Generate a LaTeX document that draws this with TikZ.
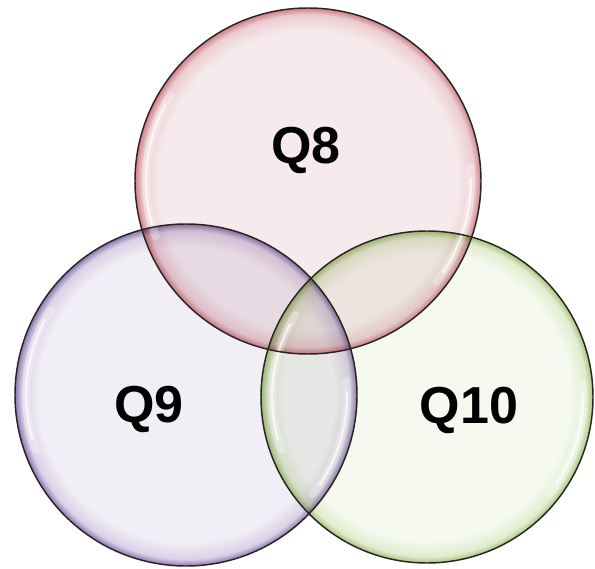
\documentclass[tikz,border=0pt]{standalone}
\usepackage{fontspec}
\setmainfont{Liberation Sans}
\usetikzlibrary{calc}
\definecolor{pkfill}{HTML}{F6EAEC}
\definecolor{pkmid}{HTML}{ECCDD1}
\definecolor{pkedge}{HTML}{CF7F87}
\definecolor{pufill}{HTML}{F1EEF5}
\definecolor{pumid}{HTML}{DAD1E7}
\definecolor{puedge}{HTML}{8C78AE}
\definecolor{grfill}{HTML}{F5F9F0}
\definecolor{grmid}{HTML}{E1ECCF}
\definecolor{gredge}{HTML}{A6C47A}
\definecolor{outline}{HTML}{2A2424}
\pgfdeclareradialshading{pkglass}{\pgfpoint{0bp}{0bp}}{color(0bp)=(pkfill); color(21.6bp)=(pkfill); color(24bp)=(pkmid); color(25bp)=(pkedge); color(50bp)=(pkedge)}
\pgfdeclareradialshading{puglass}{\pgfpoint{0bp}{0bp}}{color(0bp)=(pufill); color(21.6bp)=(pufill); color(24bp)=(pumid); color(25bp)=(puedge); color(50bp)=(puedge)}
\pgfdeclareradialshading{grglass}{\pgfpoint{0bp}{0bp}}{color(0bp)=(grfill); color(21.6bp)=(grfill); color(24bp)=(grmid); color(25bp)=(gredge); color(50bp)=(gredge)}
\tikzset{
  ring/.style={draw=outline, line width=1.1pt},
  hlsoft/.style={draw=white, line width=6, line cap=round, opacity=0.3},
  hlsharp/.style={draw=white, line width=1.8, line cap=round, opacity=0.7},
  label/.style={font=\bfseries\fontsize{39}{40}\selectfont, inner sep=0pt, anchor=base, text=black}
}
\begin{document}
\begin{tikzpicture}[x=0.75pt,y=0.75pt]
\useasboundingbox (0,0) rectangle (595,568);
\coordinate (c8) at (308,387);
\coordinate (c9) at (186,173);
\coordinate (c10) at (427,171);
\begin{scope}[blend mode=multiply]
  \shade[shading=pkglass] (c8) circle[radius=173];
  \shade[shading=puglass] (c9) circle[radius=171];
  \shade[shading=grglass] (c10) circle[radius=166];
\end{scope}
% highlights
\foreach \c/\r in {c8/173, c9/171, c10/166}{
  \draw[hlsoft] ([shift={(148:\r-11)}]\c) arc[start angle=148, end angle=200, radius=\r-11];
  \draw[hlsharp] ([shift={(152:\r-11)}]\c) arc[start angle=152, end angle=196, radius=\r-11];
  \draw[hlsoft] ([shift={(-38:\r-10)}]\c) arc[start angle=-38, end angle=5, radius=\r-10];
  \draw[hlsharp] ([shift={(-34:\r-10)}]\c) arc[start angle=-34, end angle=1, radius=\r-10];
}
\draw[ring] (c8) circle[radius=173];
\draw[ring] (c9) circle[radius=171];
\draw[ring] (c10) circle[radius=166];
\node[label] (q8) at (306,404) {Q8};
\node[label] (q9) at (149,146) {Q9};
\node[label] (q10) at (469,145) {Q10};
\end{tikzpicture}
\end{document}
